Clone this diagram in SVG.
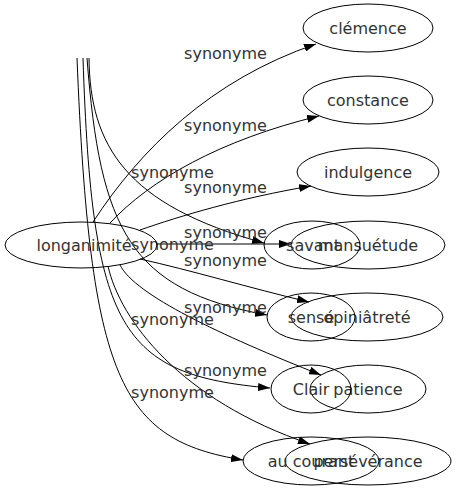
<svg xmlns="http://www.w3.org/2000/svg" width="457" height="491" viewBox="0 0 457 491">
<defs>
<marker id="arr" markerUnits="userSpaceOnUse" markerWidth="12" markerHeight="8" refX="12" refY="4" orient="auto">
<path d="M0,0 L12,4 L0,8 z" fill="#000"/>
</marker>
<style>
.n ellipse{fill:none;stroke:#000;stroke-width:1}
text{font-family:"DejaVu Sans",sans-serif;font-size:16px;fill:#333;text-anchor:middle}
.e path{fill:none;stroke:#000;stroke-width:1;marker-end:url(#arr)}
</style>
</defs>
<rect width="457" height="491" fill="#fff"/>
<g id="edges" class="e">
<path d="M93,222 C140,150 210,80 316,44"/>
<path d="M110,223 C150,180 220,140 319,116"/>
<path d="M140,230 C180,216 240,198 311,186"/>
<path d="M157,244 L291,244"/>
<path d="M140,259 C190,270 250,288 309,302"/>
<path d="M120,265 C135,295 220,335 321,375"/>
<path d="M108,266 C120,320 180,400 310,444"/>
<path d="M89,58 C90,145 125,205 264,243"/>
<path d="M87,58 C100,230 130,290 267,315"/>
<path d="M83,58 C92,330 120,375 270,388"/>
<path d="M77,58 C90,380 120,440 243,460"/>
<text x="225.5" y="59">synonyme</text>
<text x="225.5" y="131">synonyme</text>
<text x="225.5" y="193">synonyme</text>
<text x="225.5" y="238">synonyme</text>
<text x="225.5" y="266">synonyme</text>
<text x="225.5" y="313">synonyme</text>
<text x="225.5" y="376">synonyme</text>
<text x="172.5" y="178">synonyme</text>
<text x="172.5" y="250">synonyme</text>
<text x="172.5" y="325">synonyme</text>
<text x="172.5" y="398">synonyme</text>
</g>
<g id="longanimite" class="n"><ellipse cx="81" cy="245" rx="76" ry="23"/><text x="84" y="251">longanimité</text></g>
<g id="clemence" class="n"><ellipse cx="368" cy="28" rx="65" ry="24"/><text x="368" y="34">clémence</text></g>
<g id="constance" class="n"><ellipse cx="368" cy="100" rx="65" ry="24"/><text x="368" y="106">constance</text></g>
<g id="indulgence" class="n"><ellipse cx="368" cy="172" rx="71" ry="24"/><text x="368" y="178">indulgence</text></g>
<g id="mansuetude" class="n"><ellipse cx="368" cy="245" rx="77" ry="24"/><text x="368" y="251">mansuétude</text></g>
<g id="opiniatrete" class="n"><ellipse cx="367" cy="317" rx="76" ry="24"/><text x="367" y="323">opiniâtreté</text></g>
<g id="patience" class="n"><ellipse cx="368" cy="389" rx="58" ry="24"/><text x="368" y="395">patience</text></g>
<g id="perseverance" class="n"><ellipse cx="368" cy="461" rx="83" ry="24"/><text x="368" y="467">persévérance</text></g>
<g id="savant" class="n"><ellipse cx="312" cy="245" rx="48" ry="24"/><text x="313" y="251">savant</text></g>
<g id="sense" class="n"><ellipse cx="311" cy="317" rx="44" ry="24"/><text x="311" y="323">sensé</text></g>
<g id="clair" class="n"><ellipse cx="311" cy="389" rx="40" ry="24"/><text x="311" y="395">Clair</text></g>
<g id="au-courant" class="n"><ellipse cx="311" cy="461" rx="68" ry="24"/><text x="311" y="467">au courant</text></g>
</svg>
